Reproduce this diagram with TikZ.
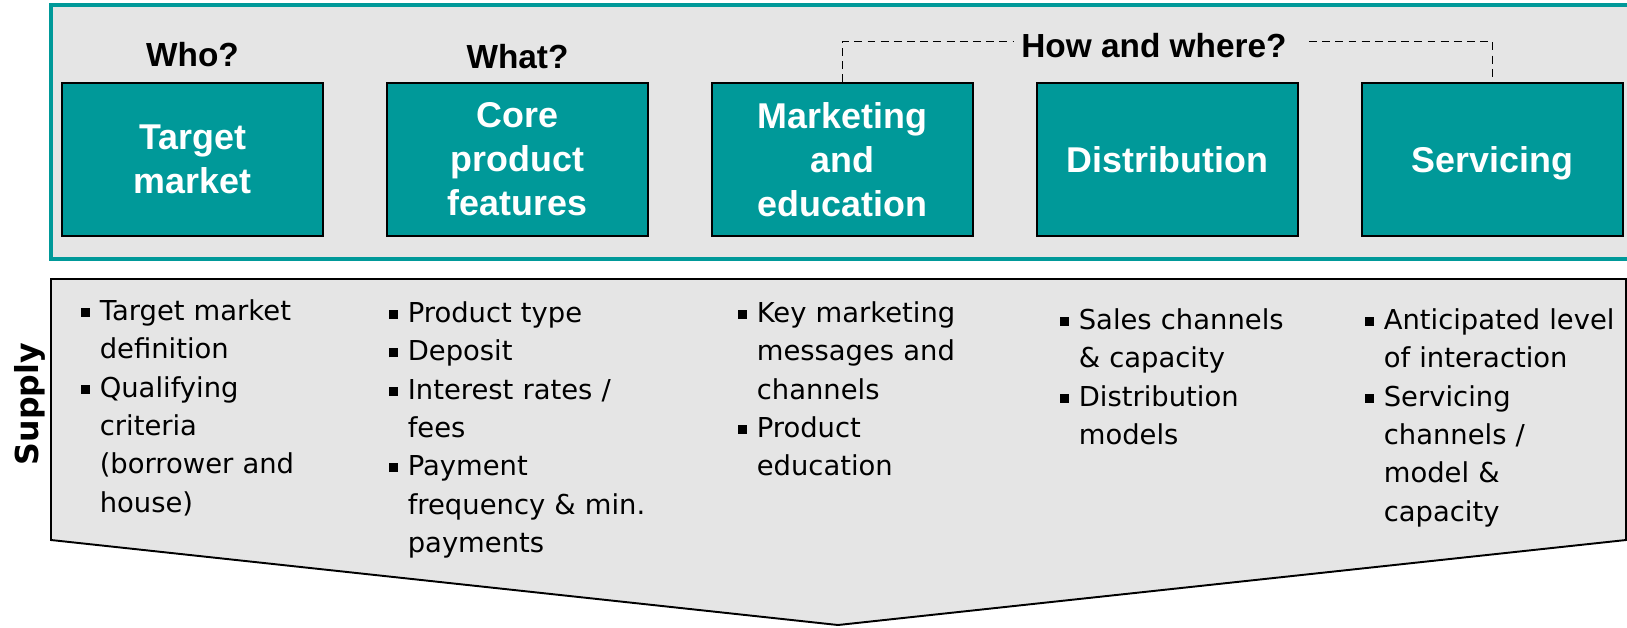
\documentclass[tikz,border=0pt]{standalone}
\usepackage{fontspec}
\setmainfont{Liberation Sans}
\newfontfamily\bodyfont{DejaVu Sans}
\usetikzlibrary{positioning}

\definecolor{boxteal}{RGB}{0,153,153}
\definecolor{panelgray}{RGB}{229,229,229}

% square bullet with hanging indent
\newlength\bltindent
\setlength\bltindent{10.5pt}
\newcommand\bitem[1]{\par\noindent\hangindent=\bltindent\hangafter=1%
  \makebox[\bltindent][l]{\raisebox{2.1pt}{\rule{5pt}{5pt}}}%
  {\let\\\newline #1\par}}

\tikzset{
  stage/.style={draw=black, line width=0.8pt, fill=boxteal, text=white,
    minimum width=5.22cm, minimum height=3.06cm, inner sep=0pt, align=center,
    font=\fontsize{20.4}{25}\selectfont\bfseries},
  question/.style={inner sep=0.14cm, font=\fontsize{19}{22}\selectfont\bfseries},
  detail/.style={anchor=north west, inner sep=0pt, text width=5.2cm, align=left,
    font=\bodyfont\fontsize{15.6}{21.8}\selectfont},
}

\begin{document}
\begin{tikzpicture}[x=0.02cm, y=-0.02cm]
  \useasboundingbox (0,0) rectangle (1627,627);

  % upper panel
  \draw[line width=2pt, draw=boxteal, fill=panelgray] (51,5) rectangle (1660,259);

  \node[stage] (tgt)  at (192.5,159.5)  {Target\\market};
  \node[stage] (core) at (517.5,159.5)  {Core\\product\\features};
  \node[stage] (mkt)  at (842.5,159.5)  {Marketing\\and\\education};
  \node[stage] (dist) at (1167.5,159.5) {Distribution};
  \node[stage, text depth=0pt] (serv) at (1492.5,159.5) {Servicing};

  \node[question, above=0.16cm of tgt]  (who)  {Who?};
  \node[question, above=0.12cm of core] (what) {What?};
  \node[question] (how) at (1154,46) {How and where?};

  \draw[dash pattern=on 4.5pt off 3pt, line width=0.7pt]
    (mkt.north) |- ([yshift=0.09cm]how.west);
  \draw[dash pattern=on 4.5pt off 3pt, line width=0.7pt]
    ([xshift=0.3cm,yshift=0.09cm]how.east) -| (serv.north);

  % lower panel
  \draw[line width=1.1pt, fill=panelgray]
    (51,279) -- (1626,279) -- (1626,540) -- (838,625) -- (51,540) -- cycle;

  \node[rotate=90, font=\bodyfont\bfseries\fontsize{18}{20}\selectfont] (supply) at (30,404) {Supply};

  \node[detail] (who1) at (81,282)
    {\bitem{Target market\\definition}
     \bitem{Qualifying\\criteria\\(borrower and\\house)}};
  \node[detail] (what1) at (389,284)
    {\bitem{Product type}
     \bitem{Deposit}
     \bitem{Interest rates /\\fees}
     \bitem{Payment\\frequency \& min.\\payments}};
  \node[detail] (mkt1) at (738,284)
    {\bitem{Key marketing\\messages and\\channels}
     \bitem{Product\\education}};
  \node[detail] (dist1) at (1060,291)
    {\bitem{Sales channels\\\& capacity}
     \bitem{Distribution\\models}};
  \node[detail] (serv1) at (1365,291)
    {\bitem{Anticipated level\\of interaction}
     \bitem{Servicing\\channels /\\model \&\\capacity}};
\end{tikzpicture}
\end{document}
